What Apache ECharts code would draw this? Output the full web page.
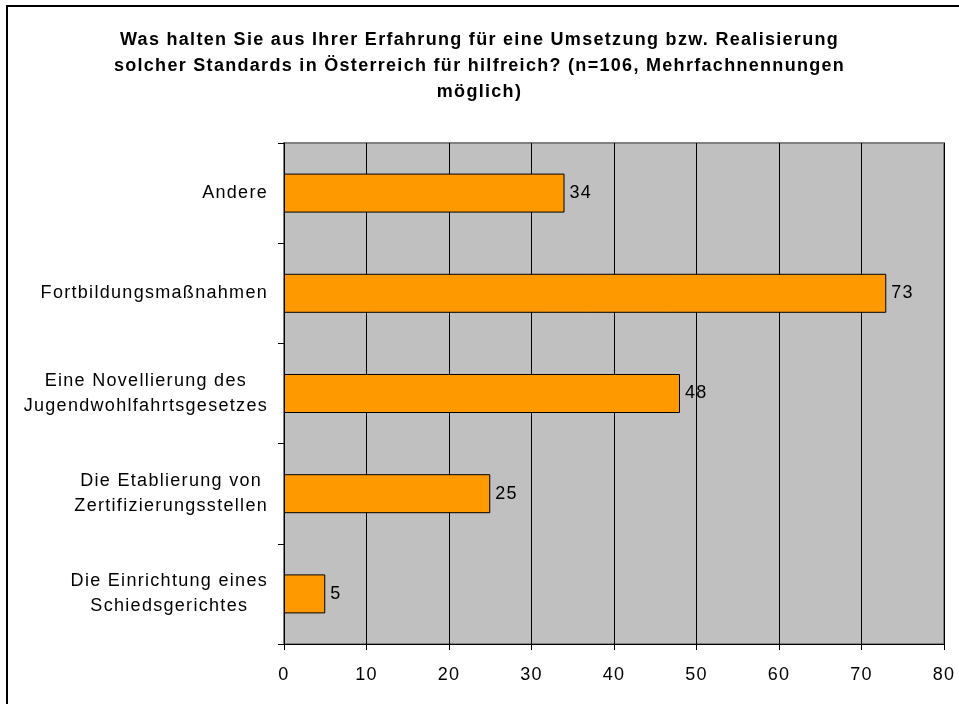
<!DOCTYPE html>
<html><head><meta charset="utf-8">
<script src="https://cdn.jsdelivr.net/npm/echarts@6/dist/echarts.min.js"></script>
<style>html,body{margin:0;padding:0;background:#fff}#c{width:959px;height:704px}</style>
</head><body><div id="c"></div>
<script>
const categories = [
  ['Die Einrichtung eines', 'Schiedsgerichtes'],
  ['Die Etablierung von', 'Zertifizierungsstellen'],
  ['Eine Novellierung des', 'Jugendwohlfahrtsgesetzes'],
  ['Fortbildungsmaßnahmen'],
  ['Andere']
];
const values = [5, 25, 48, 73, 34];
const xTicks = [0, 10, 20, 30, 40, 50, 60, 70, 80];
const titleLines = [
  'Was halten Sie aus Ihrer Erfahrung für eine Umsetzung bzw. Realisierung',
  'solcher Standards in Österreich für hilfreich? (n=106, Mehrfachnennungen',
  'möglich)'
];

// The reference text is set with slightly wider letter spacing than the installed fonts
(function () {
  const P = CanvasRenderingContext2D.prototype;
  const of = P.fillText, om = P.measureText;
  P.fillText = function () { this.letterSpacing = '1.3px'; return of.apply(this, arguments); };
  P.measureText = function () { this.letterSpacing = '1.3px'; return om.apply(this, arguments); };
})();

const FONT = 'Liberation Sans, Arial, sans-serif';
const chart = echarts.init(document.getElementById('c'), null, {renderer: 'canvas'});
chart.setOption({
  animation: false,
  backgroundColor: '#fff',
  title: {
    text: titleLines.join('\n'),
    left: 'center', top: 22,
    textStyle: {fontFamily: FONT, fontWeight: 'bold', fontSize: 18, lineHeight: 26, color: '#000'}
  },
  graphic: [{
    type: 'rect', shape: {x: 7, y: 6, width: 970, height: 720},
    style: {fill: 'none', stroke: '#000', lineWidth: 2}, silent: true
  }],
  grid: {left: 284, top: 143, right: 15, bottom: 60, show: true, backgroundColor: '#c0c0c0', borderColor: '#808080', borderWidth: 2},
  xAxis: {
    type: 'value', min: xTicks[0], max: xTicks[xTicks.length - 1], interval: 10,
    axisLine: {show: true, lineStyle: {color: '#000', width: 1}},
    axisTick: {show: true, length: 6, lineStyle: {color: '#000'}},
    axisLabel: {margin: 21, fontSize: 18, color: '#000', fontFamily: FONT},
    splitLine: {show: true, lineStyle: {color: '#000', width: 1}}
  },
  yAxis: {
    type: 'category',
    data: categories.map(c => c.join('\n')),
    axisLine: {show: true, lineStyle: {color: '#000', width: 1}},
    axisTick: {show: true, length: 6, lineStyle: {color: '#000'}},
    axisLabel: {
      margin: 16, fontSize: 18, color: '#000', fontFamily: FONT, align: 'right', lineHeight: 25,
      formatter: v => v.split('\n').map(s => '{c|' + s + '}').join('\n'),
      rich: {c: {align: 'center', fontSize: 18, lineHeight: 25, fontFamily: FONT, color: '#000'}}
    },
    splitLine: {show: false}
  },
  series: [{
    type: 'bar', data: values, barWidth: 39,
    itemStyle: {color: '#ff9900', borderColor: '#000', borderWidth: 1},
    label: {show: true, position: 'right', distance: 5, fontSize: 18, color: '#000', fontFamily: FONT}
  }]
});
</script></body></html>
